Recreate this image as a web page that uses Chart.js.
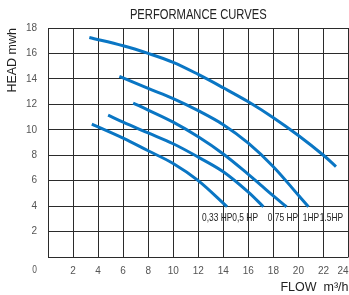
<!DOCTYPE html>
<html><head><meta charset="utf-8">
<script src="https://cdn.jsdelivr.net/npm/chart.js@4/dist/chart.umd.min.js"></script>
<style>html,body{margin:0;padding:0;background:#fff}canvas{display:block}</style>
</head><body>
<canvas id="c" width="349" height="295"></canvas>
<script>
// ---- data ----
const chartTitle = 'PERFORMANCE CURVES';
const xAxisTitle = 'FLOW  m³/h';
const yAxisTitle = 'HEAD mwh';
const xTickValues = [0, 2, 4, 6, 8, 10, 12, 14, 16, 18, 20, 22, 24];
const yTickValues = [0, 2, 4, 6, 8, 10, 12, 14, 16, 18];
const seriesLabels = ['1.5HP', '1HP', '0,75 HP', '0,5 HP', '0,33 HP'];

const flow15 = [3.3, 6, 8, 10, 12, 14, 16, 18, 20, 22, 23];
const head15 = [17.25, 16.6, 16.0, 15.3, 14.35, 13.3, 12.2, 10.95, 9.55, 8.0, 7.1];
const flow10 = [5.7, 8, 10, 12, 14, 16, 18, 20, 20.8];
const head10 = [14.2, 13.25, 12.45, 11.5, 10.4, 8.95, 7.1, 4.85, 3.95];
const flow075 = [6.8, 8, 10, 12, 14, 16, 17, 18, 19.05];
const head075 = [12.1, 11.55, 10.6, 9.45, 8.1, 6.5, 5.65, 4.8, 3.95];
const flow05 = [4.8, 6, 8, 10, 12, 14, 16, 17.2];
const head05 = [11.15, 10.6, 9.75, 8.9, 7.85, 6.7, 5.1, 3.95];
const flow033 = [3.5, 6, 8, 10, 12, 14.3];
const head033 = [10.45, 9.35, 8.35, 7.35, 6.0, 3.95];

// ---- presentation ----
const FONT = '"Liberation Sans", Arial, sans-serif';
const BLUE = '#0a76c4';
const GRID = '#2b2b2b';
const NARROW = 0.8; // horizontal squeeze for the condensed lettering
// where the curve names start (data coordinates)
const labelSpots = {
  '0,33 HP': [12.3, 3.05], '0,5 HP': [14.72, 3.05], '0,75 HP': [17.55, 3.05],
  '1HP': [20.35, 3.05], '1.5HP': [21.7, 3.05]
};

const pairs = (xs, ys) => xs.map((x, i) => ({x, y: ys[i]}));
const allSeries = [[flow15, head15], [flow10, head10], [flow075, head075], [flow05, head05], [flow033, head033]];

function narrowText(ctx, txt, x, y, align) {
  ctx.save();
  ctx.translate(x, y);
  ctx.scale(NARROW, 1);
  ctx.textAlign = align;
  ctx.fillText(txt, 0, 0);
  ctx.restore();
}

const textPlugin = {
  id: 'texts',
  afterDraw(chart) {
    const {ctx, chartArea, scales} = chart;
    ctx.save();
    ctx.textBaseline = 'middle';
    ctx.fillStyle = '#222';
    ctx.font = '14px ' + FONT;
    narrowText(ctx, chartTitle, (chartArea.left + chartArea.right) / 2, 15, 'center');
    // shared origin label
    ctx.fillStyle = '#555';
    ctx.font = '10.5px ' + FONT;
    narrowText(ctx, '0', 37, 270, 'right');
    // curve names
    ctx.fillStyle = '#222';
    ctx.font = '10.5px ' + FONT;
    seriesLabels.forEach(name => {
      const p = labelSpots[name];
      narrowText(ctx, name, scales.x.getPixelForValue(p[0]), scales.y.getPixelForValue(p[1]), 'left');
    });
    ctx.restore();
  }
};

new Chart(document.getElementById('c'), {
  type: 'scatter',
  data: {
    datasets: allSeries.map((s, i) => ({
      label: seriesLabels[i],
      data: pairs(s[0], s[1]),
      showLine: true,
      borderColor: BLUE,
      backgroundColor: BLUE,
      borderWidth: 3,
      pointRadius: 0,
      tension: 0.35,
      borderCapStyle: 'butt'
    }))
  },
  options: {
    responsive: false,
    animation: false,
    devicePixelRatio: 1,
    layout: {padding: {top: 28, right: 0, bottom: 0, left: 0}},
    plugins: {legend: {display: false}, title: {display: false}, tooltip: {enabled: false}},
    scales: {
      x: {
        type: 'linear', min: 0, max: 24,
        afterBuildTicks: s => { s.ticks = xTickValues.map(v => ({value: v})); },
        afterFit: s => { s.height = 38; s.paddingLeft = 0; s.paddingRight = 0.5; },
        grid: {color: GRID, lineWidth: 1, drawTicks: false},
        border: {display: false},
        ticks: {
          padding: 8, color: '#555', font: {family: FONT, size: 10}, maxRotation: 0,
          align: 'inner',
          // origin label is shared with the y axis
          callback: v => v === 0 ? '' : String(v)
        },
        title: {display: true, text: xAxisTitle, align: 'end', color: '#222',
                font: {family: FONT, size: 12.5}, padding: {top: 0, bottom: 0}}
      },
      y: {
        type: 'linear', min: 0, max: 18,
        afterBuildTicks: s => { s.ticks = yTickValues.map(v => ({value: v})); },
        afterFit: s => { s.width = 48; s.paddingTop = 0; s.paddingBottom = 0; },
        grid: {color: GRID, lineWidth: 1, drawTicks: false},
        border: {display: false},
        ticks: {
          padding: 11, color: '#555', font: {family: FONT, size: 10},
          callback: v => v === 0 ? '' : String(v)
        },
        title: {display: true, text: yAxisTitle, align: 'end', color: '#222',
                font: {family: FONT, size: 12.5}, padding: {top: 5, bottom: 0}}
      }
    }
  },
  plugins: [textPlugin]
});
</script>
</body></html>
